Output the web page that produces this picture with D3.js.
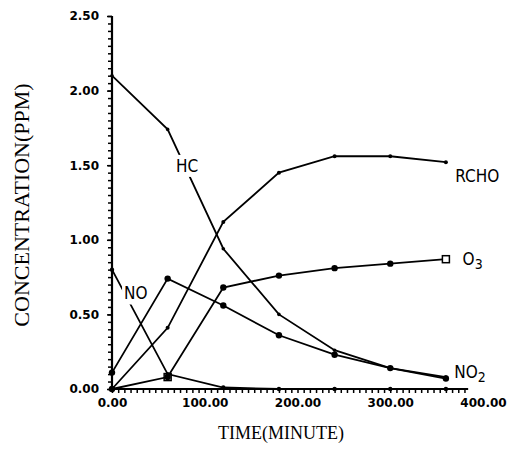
<!DOCTYPE html>
<html>
<head>
<meta charset="utf-8">
<script src="https://cdn.jsdelivr.net/npm/d3@7"></script>
<style>
  body { margin: 0; background: #fff; }
  svg { display: block; }
</style>
</head>
<body>
<figure style="margin:0"></figure>
<script>
// sampling times (minutes)
const times = [0, 60, 120, 180, 240, 300, 360];
// concentrations (ppm)
const hc = [2.10, 1.74, 0.94, 0.50, 0.26, 0.14, 0.08];
const rcho = [0.00, 0.41, 1.12, 1.45, 1.56, 1.56, 1.52];
const o3 = [0.00, 0.08, 0.68, 0.76, 0.81, 0.84, 0.87];
const no2 = [0.11, 0.74, 0.56, 0.36, 0.23, 0.14, 0.07];
const no = [0.80, 0.10, 0.01, 0.00, 0.00, 0.00, 0.00];

const yTicks = [0, 0.5, 1.0, 1.5, 2.0, 2.5];
const xTicks = [0, 100, 200, 300, 400];

const series = [
  { name: "HC", values: hc, r: 1.8 },
  { name: "RCHO", values: rcho, r: 2 },
  { name: "O3", values: o3, r: 3.2 },
  { name: "NO2", values: no2, r: 3.2 },
  { name: "NO", values: no, r: 2.2 },
];

// where the curve names sit, in data units
const labels = [
  { text: "HC", t: 69, v: 1.455 },
  { text: "NO", t: 13, v: 0.60 },
  { text: "RCHO", t: 370, v: 1.39 },
  { text: "O", sub: "3", t: 378, v: 0.83 },
  { text: "NO", sub: "2", t: 369, v: 0.075 },
];

const width = 513, height = 459;
let canvas = d3.select("figure").append("svg")
  .attr("width", width).attr("height", height);

const x = d3.scaleLinear().domain([0, 400]).range([112, 483]);
const y = d3.scaleLinear().domain([0, 2.5]).range([389, 16]);

// axes: minor ticks first, then labelled ticks
const yMinor = d3.range(0, 2.5001, 0.05);
canvas.append("g")
  .attr("transform", `translate(${x(0)},0)`)
  .call(d3.axisLeft(y).tickValues(yMinor).tickSize(4).tickFormat(""))
  .call(g => g.select(".domain").remove());
canvas.append("g")
  .attr("class", "yaxis")
  .attr("transform", `translate(${x(0)},0)`)
  .call(d3.axisLeft(y).tickValues(yTicks).tickSize(5).tickPadding(8)
    .tickFormat(d3.format(".2f")))
  .call(g => g.select(".domain").remove());

const xMinor = d3.range(0, 385, 100 / 15);
canvas.append("g")
  .attr("transform", `translate(0,${y(0)})`)
  .call(d3.axisBottom(x).tickValues(xMinor).tickSize(4).tickFormat(""))
  .call(g => g.select(".domain").remove());
canvas.append("g")
  .attr("class", "xaxis")
  .attr("transform", `translate(0,${y(0)})`)
  .call(d3.axisBottom(x).tickValues(xTicks).tickSize(0).tickPadding(9)
    .tickFormat(d3.format(".2f")))
  .call(g => g.select(".domain").remove());

canvas.selectAll(".tick line").attr("stroke", "#000").attr("stroke-width", 1.5);
canvas.selectAll(".yaxis text, .xaxis text")
  .attr("font-family", "DejaVu Sans")
  .attr("font-weight", "bold")
  .attr("font-size", 12)
  .attr("fill", "#000");

// axis lines
canvas.append("line")
  .attr("x1", x(0)).attr("x2", x(0))
  .attr("y1", y(0)).attr("y2", y(2.5))
  .attr("stroke", "#000").attr("stroke-width", 2.2);
canvas.append("line")
  .attr("x1", x(0)).attr("x2", x(384))
  .attr("y1", y(0)).attr("y2", y(0))
  .attr("stroke", "#000").attr("stroke-width", 2.2);

// curves
const line = d3.line()
  .x((d, i) => x(times[i]))
  .y(d => y(d));

series.forEach(s => {
  canvas.append("path")
    .datum(s.values)
    .attr("d", line)
    .attr("fill", "none")
    .attr("stroke", "#000")
    .attr("stroke-width", 1.8);

  canvas.selectAll(null)
    .data(s.values)
    .enter()
    .append("circle")
    .attr("cx", (d, i) => x(times[i]))
    .attr("cy", d => y(d))
    .attr("r", s.r)
    .attr("fill", "#000");
});

// open square marker at the last ozone point
canvas.append("rect")
  .attr("x", x(times[6]) - 3.5)
  .attr("y", y(o3[6]) - 3.5)
  .attr("width", 7).attr("height", 7)
  .attr("fill", "#fff").attr("stroke", "#000").attr("stroke-width", 1.5);
canvas.append("rect")
  .attr("x", x(times[1]) - 3.5)
  .attr("y", y(o3[1]) - 3.5)
  .attr("width", 7).attr("height", 7)
  .attr("fill", "none").attr("stroke", "#000").attr("stroke-width", 1.5);

// curve names, with a white patch to break the line
const lab = canvas.selectAll(".lab")
  .data(labels)
  .enter()
  .append("g")
  .attr("class", "lab");
lab.each(function (d) {
  const g = d3.select(this);
  const t = g.append("text")
    .attr("x", x(d.t)).attr("y", y(d.v))
    .attr("font-family", "Liberation Sans Narrow, DejaVu Sans Condensed, sans-serif")
    .attr("font-size", 17)
    .attr("fill", "#000")
    .text(d.text);
  if (d.sub) {
    t.append("tspan").attr("dy", 4).attr("font-size", 14).text(d.sub);
  }
  const b = t.node().getBBox();
  g.insert("rect", "text")
    .attr("x", b.x - 2).attr("y", b.y - 1)
    .attr("width", b.width + 4).attr("height", b.height + 2)
    .attr("fill", "#fff");
});

// axis titles
canvas.append("text")
  .attr("x", 281).attr("y", 439)
  .attr("text-anchor", "middle")
  .attr("font-family", "Liberation Serif")
  .attr("font-size", 18)
  .text("TIME(MINUTE)");
canvas.append("text")
  .attr("transform", "translate(29,205) rotate(-90)")
  .attr("text-anchor", "middle")
  .attr("font-family", "Liberation Serif")
  .attr("font-size", 22)
  .text("CONCENTRATION(PPM)");
</script>
</body>
</html>
